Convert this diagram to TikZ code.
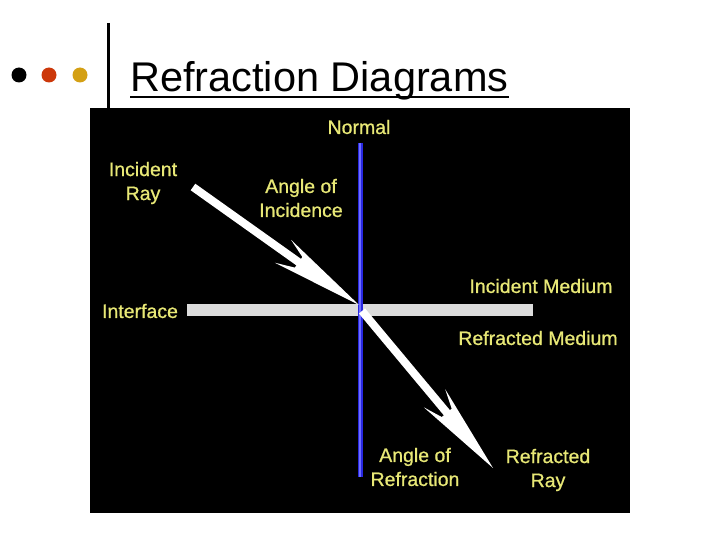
\documentclass[tikz,border=0pt]{standalone}
\usepackage{fontspec}
\setmainfont{Liberation Sans}
\newfontfamily\lblfont[FakeBold=0.8]{Liberation Sans}
\definecolor{txtyellow}{RGB}{232,232,118}
\definecolor{dotred}{RGB}{204,56,10}
\definecolor{dotgold}{RGB}{212,160,20}
\definecolor{normblue}{RGB}{40,40,225}
\definecolor{normlight}{RGB}{110,110,255}
\definecolor{bargray}{RGB}{220,220,220}
\tikzset{
  lbl/.style={text=txtyellow, font=\lblfont\fontsize{19.5}{24}\selectfont, align=center, inner sep=0pt},
  dotnode/.style={circle, minimum size=15pt, inner sep=0pt},
  ray/.style={draw=white, line width=8pt, line cap=butt, shorten >=66pt},
}
\begin{document}
\begin{tikzpicture}[x=1pt,y=-1pt]
\useasboundingbox (0,0) rectangle (720,540);
\fill[white] (0,0) rectangle (720,540);
% header
\node[dotnode, fill=black] (d1) at (19,75) {};
\node[dotnode, fill=dotred] (d2) at (49,75) {};
\node[dotnode, fill=dotgold] (d3) at (80,75) {};
\coordinate (vtop) at (108,23);
\coordinate (vbot) at (108,108);
\draw[line width=3pt] (vtop) -- (vbot);
\node[anchor=base west, inner sep=0pt, font=\fontsize{41.5}{48}\selectfont] (title) at (130,92) {Refraction Diagrams};
\draw[line width=2pt] ([yshift=-5.5pt]title.base west) -- ([yshift=-5.5pt]title.base east);
% picture panel
\fill[black] (90,108) rectangle (630,513);
% interface bar
\fill[bargray] (187,304) rectangle (533,316);
% normal
\coordinate (ntop) at (360,143);
\coordinate (nbot) at (360,477);
\draw[normblue, line width=5pt] (ntop) -- (nbot);
\draw[normlight, line width=1.2pt] (ntop) -- (nbot);
% rays
\coordinate (istart) at (193,187);
\coordinate (itip) at (359,305);
\coordinate (rstart) at (362,311);
\coordinate (rtip) at (493,468);
\draw[ray] (istart) -- (itip);
\draw[ray] (rstart) -- (rtip);
\begin{scope}[shift={(itip)}, rotate=-35.25]
  \fill[white] (0,0) -- (-93,14) -- (-74,6.5) -- (-74,-6.5) -- (-93,-14) -- cycle;
\end{scope}
\begin{scope}[shift={(rtip)}, rotate=-50]
  \fill[white] (0,0) -- (-91,14) -- (-72,6.5) -- (-72,-6.5) -- (-91,-14) -- cycle;
\end{scope}
% labels
\node[lbl] (normal) at (359,127) {Normal};
\node[lbl] (incray) at (143,183) {Incident\\Ray};
\node[lbl] (angi) at (301,198) {Angle of\\Incidence};
\node[lbl] (iface) at (140,311) {Interface};
\node[lbl] (imed) at (541,286) {Incident Medium};
\node[lbl] (rmed) at (538,338) {Refracted Medium};
\node[lbl] (angr) at (415,467) {Angle of\\Refraction};
\node[lbl] (rray) at (548,470) {Refracted\\Ray};
\end{tikzpicture}
\end{document}
